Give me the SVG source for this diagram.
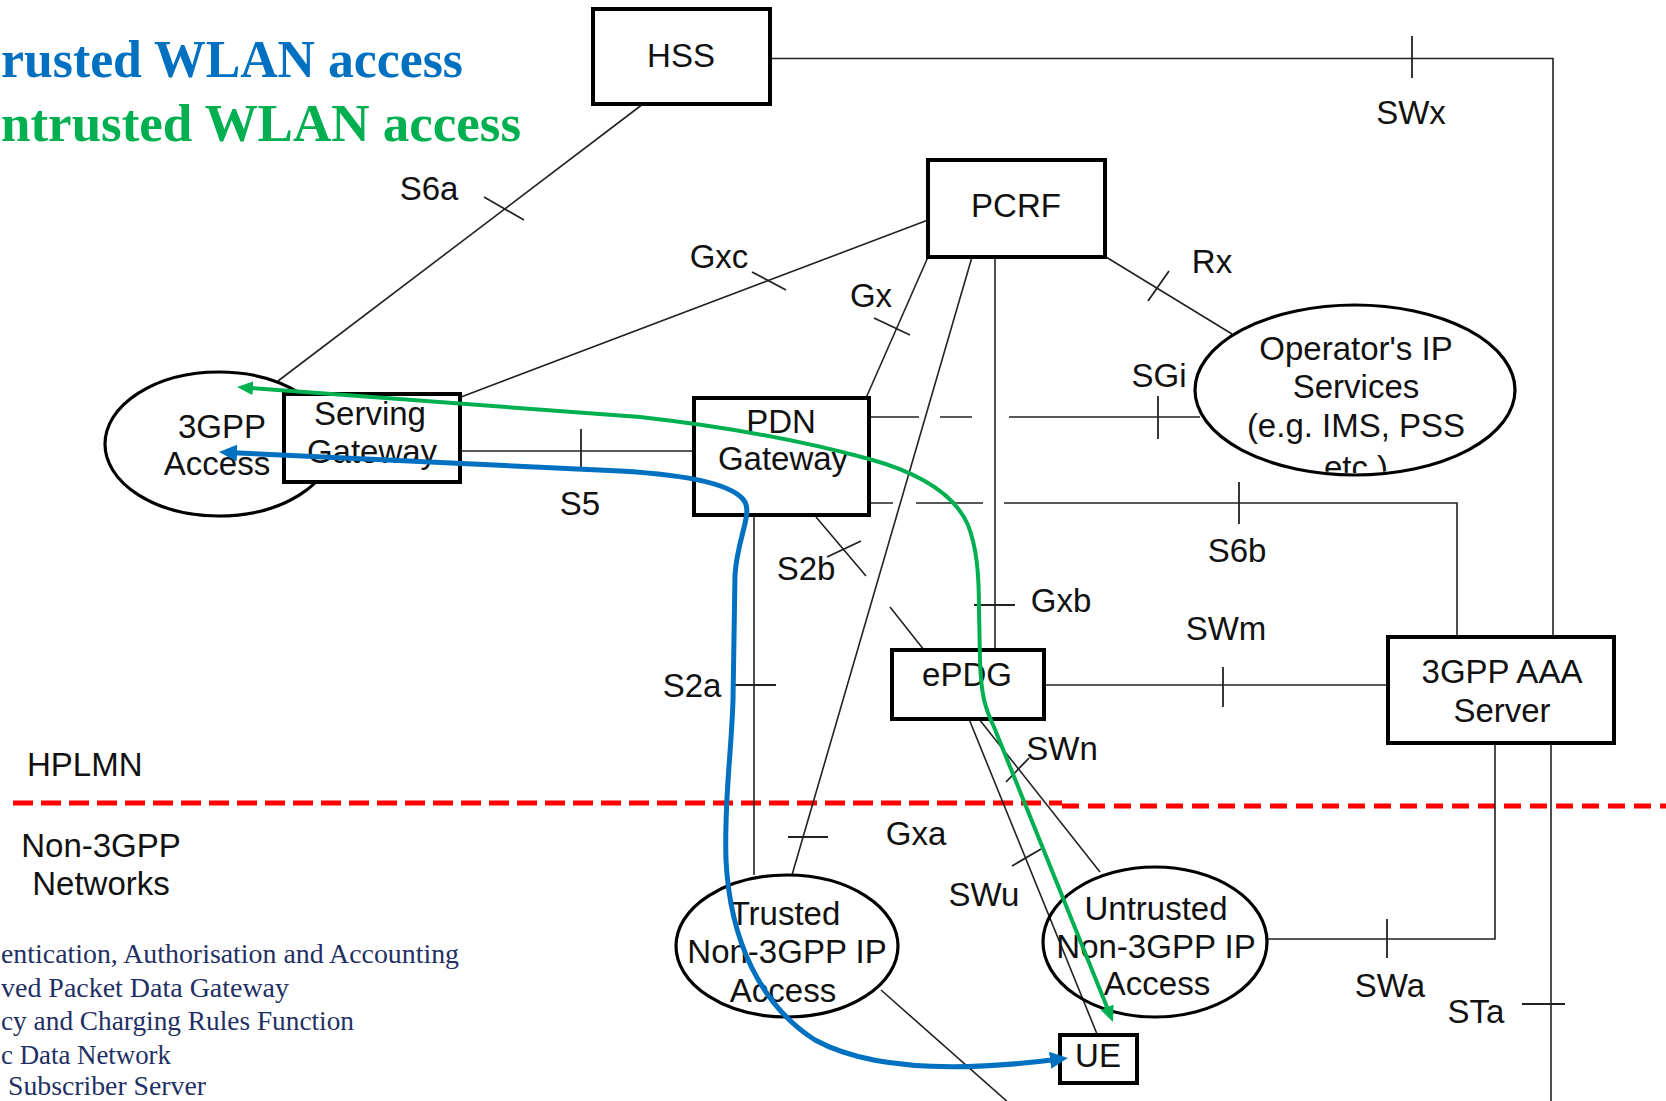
<svg xmlns="http://www.w3.org/2000/svg" width="1666" height="1101" viewBox="0 0 1666 1101">
  <defs>
    <style>
      .box { fill: #fff; stroke: #000; stroke-width: 4; }
      .oval { fill: #fff; stroke: #000; stroke-width: 3.2; }
      .lbl { font-family: "Liberation Sans", Arial, sans-serif; font-size: 33px; fill: #111; text-anchor: middle; }
      .ln { stroke: #222; stroke-width: 1.6; fill: none; }
      .tick { stroke: #222; stroke-width: 1.8; fill: none; }
      .title { font-family: "Liberation Serif", "Times New Roman", serif; font-weight: bold; font-size: 53px; }
      .legend { font-family: "Liberation Serif", "Times New Roman", serif; font-size: 28px; fill: #1F3064; }
      .boundary { stroke: #FF0000; stroke-width: 5; fill: none; }
      .flow-blue { stroke: #0070C0; stroke-width: 5; fill: none; marker-start: url(#head-blue); marker-end: url(#head-blue); }
      .flow-green { stroke: #00B050; stroke-width: 4; fill: none; marker-start: url(#head-green); marker-end: url(#head-green); }
    </style>
    <marker id="head-blue" markerUnits="userSpaceOnUse" markerWidth="18" markerHeight="17" viewBox="0 0 18 17" refX="10" refY="8.5" orient="auto-start-reverse">
      <path d="M0,0 L18,8.5 L0,17 z" fill="#0070C0"/>
    </marker>
    <marker id="head-green" markerUnits="userSpaceOnUse" markerWidth="16" markerHeight="14" viewBox="0 0 16 14" refX="8" refY="7" orient="auto-start-reverse">
      <path d="M0,0 L16,7 L0,14 z" fill="#00B050"/>
    </marker>
    <clipPath id="ops-clip">
      <ellipse cx="1355" cy="390" rx="158" ry="83"/>
    </clipPath>
  </defs>

  <rect width="1666" height="1101" fill="#fff"/>

  <!-- headings and abbreviation list -->
  <g id="headings">
    <text class="title" x="1" y="77" fill="#0070C0" textLength="462" lengthAdjust="spacingAndGlyphs">rusted WLAN access</text>
    <text class="title" x="1" y="141" fill="#00B050" textLength="520" lengthAdjust="spacingAndGlyphs">ntrusted WLAN access</text>
  </g>
  <g id="abbreviations">
    <text class="legend" x="1" y="963" textLength="458" lengthAdjust="spacingAndGlyphs">entication, Authorisation and Accounting</text>
    <text class="legend" x="1" y="997" textLength="288" lengthAdjust="spacingAndGlyphs">ved Packet Data Gateway</text>
    <text class="legend" x="1" y="1030" textLength="353" lengthAdjust="spacingAndGlyphs">cy and Charging Rules Function</text>
    <text class="legend" x="1" y="1064" textLength="170" lengthAdjust="spacingAndGlyphs">c Data Network</text>
    <text class="legend" x="8" y="1095" textLength="198" lengthAdjust="spacingAndGlyphs">Subscriber Server</text>
  </g>

  <!-- network boundary -->
  <g id="boundary">
    <path class="boundary" d="M13,803 H1062" stroke-dasharray="20 8"/>
    <path class="boundary" d="M1062,806 H1666" stroke-dasharray="17 9"/>
    <text class="lbl" x="27" y="776" style="text-anchor:start">HPLMN</text>
    <text class="lbl" x="101" y="857">Non-3GPP</text>
    <text class="lbl" x="101" y="895">Networks</text>
  </g>

  <!-- reference-point connectors -->
  <g id="connectors">
    <!-- S6a -->
    <path class="ln" d="M643,104 L278,381"/>
    <path class="tick" d="M484,197 L524,220"/>
    <text class="lbl" x="429" y="200">S6a</text>
    <!-- SWx -->
    <path class="ln" d="M770,58.5 H1553 V637"/>
    <path class="tick" d="M1412,36 V78"/>
    <text class="lbl" x="1411" y="124">SWx</text>
    <!-- Gxc -->
    <path class="ln" d="M461,397 L928,220"/>
    <path class="tick" d="M752,272 L786,290"/>
    <text class="lbl" x="719" y="268">Gxc</text>
    <!-- Gx -->
    <path class="ln" d="M928,257 L866,398"/>
    <path class="tick" d="M874,318 L910,335"/>
    <text class="lbl" x="871" y="307">Gx</text>
    <!-- Gxa -->
    <path class="ln" d="M972,257 L792,875"/>
    <path class="tick" d="M788,837 H828"/>
    <text class="lbl" x="916" y="845">Gxa</text>
    <!-- Gxb -->
    <path class="ln" d="M995,257 V650"/>
    <path class="tick" d="M974,605 H1015"/>
    <text class="lbl" x="1061" y="612">Gxb</text>
    <!-- Rx -->
    <path class="ln" d="M1106,257 L1232,334"/>
    <path class="tick" d="M1169,271 L1148,301"/>
    <text class="lbl" x="1212" y="273">Rx</text>
    <!-- S5 -->
    <path class="ln" d="M460,451 H694"/>
    <path class="tick" d="M581,429 V471"/>
    <text class="lbl" x="580" y="515">S5</text>
    <!-- SGi -->
    <path class="ln" d="M869,417 H919 M940,417 H972 M1009,417 H1200"/>
    <path class="tick" d="M1158,396 V439"/>
    <text class="lbl" x="1159" y="387">SGi</text>
    <!-- S6b -->
    <path class="ln" d="M869,503 H893 M916,503 H983 M1004,503 H1457 V637"/>
    <path class="tick" d="M1239,482 V524"/>
    <text class="lbl" x="1237" y="562">S6b</text>
    <!-- S2b -->
    <path class="ln" d="M816,517 L866,576 M890,607 L924,650"/>
    <path class="tick" d="M827,557 L861,541"/>
    <text class="lbl" x="806" y="580">S2b</text>
    <!-- S2a -->
    <path class="ln" d="M754,515 V875"/>
    <path class="tick" d="M735,685 H776"/>
    <text class="lbl" x="692" y="697">S2a</text>
    <!-- SWm -->
    <path class="ln" d="M1045,685 H1388"/>
    <path class="tick" d="M1223,667 V707"/>
    <text class="lbl" x="1226" y="640">SWm</text>
    <!-- SWu -->
    <path class="ln" d="M969,719 L1097,1034"/>
    <path class="tick" d="M1012,866 L1041,849"/>
    <text class="lbl" x="984" y="906">SWu</text>
    <!-- SWn -->
    <path class="ln" d="M979,719 L1100,872"/>
    <path class="tick" d="M1006,782 L1029,758"/>
    <text class="lbl" x="1062" y="760">SWn</text>
    <!-- SWa -->
    <path class="ln" d="M1266,939 H1495 V742"/>
    <path class="tick" d="M1387,919 V958"/>
    <text class="lbl" x="1390" y="997">SWa</text>
    <!-- STa -->
    <path class="ln" d="M1551,742 V1101"/>
    <path class="tick" d="M1522,1004 H1565"/>
    <text class="lbl" x="1476" y="1023">STa</text>
    <!-- trusted access onward link -->
    <path class="ln" d="M881,990 L1010,1104"/>
  </g>

  <!-- network elements -->
  <g id="hss">
    <rect class="box" x="593" y="9" width="177" height="95"/>
    <text class="lbl" x="681" y="67">HSS</text>
  </g>
  <g id="pcrf">
    <rect class="box" x="928" y="160" width="177" height="97"/>
    <text class="lbl" x="1016" y="217">PCRF</text>
  </g>
  <g id="access-3gpp">
    <ellipse class="oval" cx="219" cy="444" rx="114" ry="72"/>
    <text class="lbl" x="222" y="438">3GPP</text>
    <text class="lbl" x="217" y="475">Access</text>
  </g>
  <g id="serving-gw">
    <rect class="box" x="284" y="394" width="176" height="88"/>
    <text class="lbl" x="370" y="425">Serving</text>
    <text class="lbl" x="372" y="463">Gateway</text>
  </g>
  <g id="pdn-gw">
    <rect class="box" x="694" y="398" width="175" height="117"/>
    <text class="lbl" x="781" y="433">PDN</text>
    <text class="lbl" x="783" y="470">Gateway</text>
  </g>
  <g id="operator-ip">
    <ellipse class="oval" cx="1355" cy="390" rx="160" ry="85"/>
    <g clip-path="url(#ops-clip)">
      <text class="lbl" x="1356" y="360">Operator's IP</text>
      <text class="lbl" x="1356" y="398">Services</text>
      <text class="lbl" x="1356" y="437">(e.g. IMS, PSS</text>
      <text class="lbl" x="1356" y="479">etc.)</text>
    </g>
  </g>
  <g id="epdg">
    <rect class="box" x="892" y="650" width="152" height="69"/>
    <text class="lbl" x="967" y="686">ePDG</text>
  </g>
  <g id="aaa">
    <rect class="box" x="1388" y="637" width="226" height="106"/>
    <text class="lbl" x="1502" y="683">3GPP AAA</text>
    <text class="lbl" x="1502" y="722">Server</text>
  </g>
  <g id="trusted-access">
    <ellipse class="oval" cx="787" cy="946" rx="111" ry="71"/>
    <text class="lbl" x="785" y="925">Trusted</text>
    <text class="lbl" x="787" y="963">Non-3GPP IP</text>
    <text class="lbl" x="783" y="1002">Access</text>
  </g>
  <g id="untrusted-access">
    <ellipse class="oval" cx="1155" cy="942" rx="112" ry="75" style="fill:none"/>
    <text class="lbl" x="1156" y="920">Untrusted</text>
    <text class="lbl" x="1156" y="958">Non-3GPP IP</text>
    <text class="lbl" x="1157" y="995">Access</text>
  </g>
  <g id="ue">
    <rect class="box" x="1060" y="1035" width="77" height="48"/>
    <text class="lbl" x="1098" y="1067">UE</text>
  </g>

  <!-- user-plane paths -->
  <g id="paths">
    <path class="flow-blue" d="M227,452.5 L620,471 C690,475 735,485 745,502 C752,515 737,540 735,575 L733,700 C731,760 724,800 726,860 C730,940 760,1005 815,1040 C870,1070 960,1072 1060,1059"/>
    <path class="flow-green" d="M245,387.6 L640,417 C720,426 800,440 869,459 C920,473 955,495 968,525 C977,548 979,575 979,610 L980,660 C981,695 985,708 994,727 L1110,1014.6"/>
  </g>
</svg>
